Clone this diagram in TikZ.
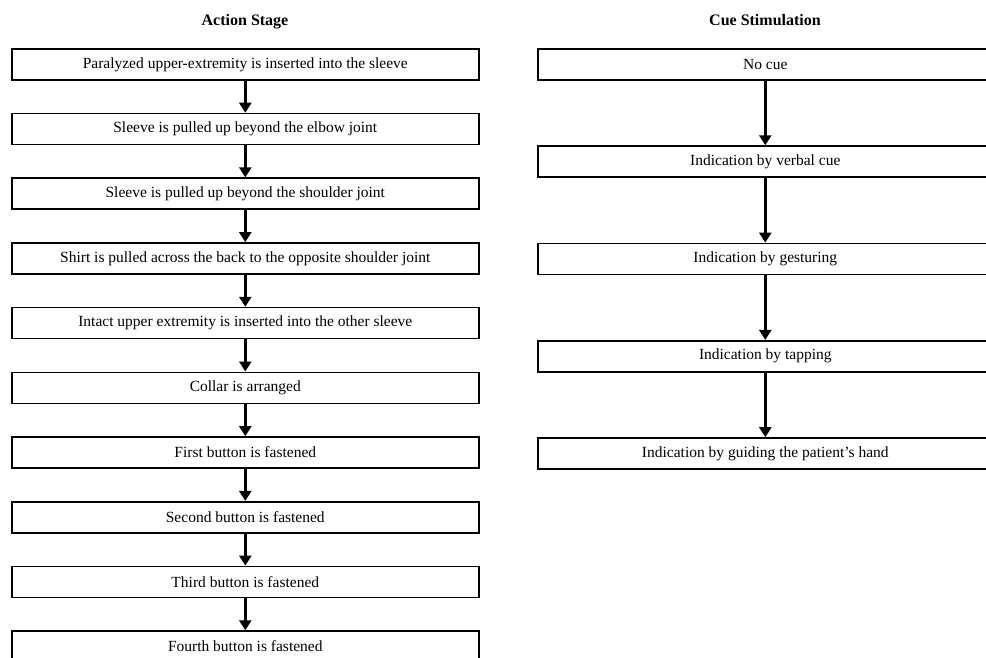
\documentclass[tikz,border=0pt]{standalone}
\usepackage{fontspec}
\setmainfont{Liberation Serif}
\usetikzlibrary{arrows.meta}
\begin{document}
\begin{tikzpicture}[x=1pt,y=-1pt,
  box/.style={draw, line width=1.6pt, minimum height=31pt, inner sep=0pt, anchor=north west,
    font=\fontsize{15.5}{17}\selectfont},
  lbox/.style={box, minimum width=467pt},
  rbox/.style={box, minimum width=455pt},
  arr/.style={line width=2.8pt, -{Triangle[width=12pt,length=10pt]}},
  title/.style={anchor=base, font=\bfseries\fontsize{16}{18}\selectfont}]
\useasboundingbox (0,0) rectangle (986,657);
\node[title] (t1) at (245,25) {Action Stage};
\node[title] (t2) at (765,25) {Cue Stimulation};
% left column
\node[lbox] (a1) at (11,48)    {Paralyzed upper-extremity is inserted into the sleeve};
\node[lbox] (a2) at (11,112.7) {Sleeve is pulled up beyond the elbow joint};
\node[lbox] (a3) at (11,177.4) {Sleeve is pulled up beyond the shoulder joint};
\node[lbox] (a4) at (11,242.1) {Shirt is pulled across the back to the opposite shoulder joint};
\node[lbox] (a5) at (11,306.8) {Intact upper extremity is inserted into the other sleeve};
\node[lbox] (a6) at (11,371.5) {Collar is arranged};
\node[lbox] (a7) at (11,436.2) {First button is fastened};
\node[lbox] (a8) at (11,500.9) {Second button is fastened};
\node[lbox] (a9) at (11,565.6) {Third button is fastened};
\node[lbox] (a10) at (11,630.3) {Fourth button is fastened};
\foreach \i/\j in {1/2,2/3,3/4,4/5,5/6,6/7,7/8,8/9,9/10}
  \draw[arr] (a\i.south) -- (a\j.north);
% right column
\node[rbox] (c1) at (537,48)    {No cue};
\node[rbox] (c2) at (537,145.3) {Indication by verbal cue};
\node[rbox] (c3) at (537,242.6) {Indication by gesturing};
\node[rbox] (c4) at (537,339.9) {Indication by tapping};
\node[rbox] (c5) at (537,437.2) {Indication by guiding the patient's hand};
\foreach \i/\j in {1/2,2/3,3/4,4/5}
  \draw[arr] (c\i.south) -- (c\j.north);
\end{tikzpicture}
\end{document}
